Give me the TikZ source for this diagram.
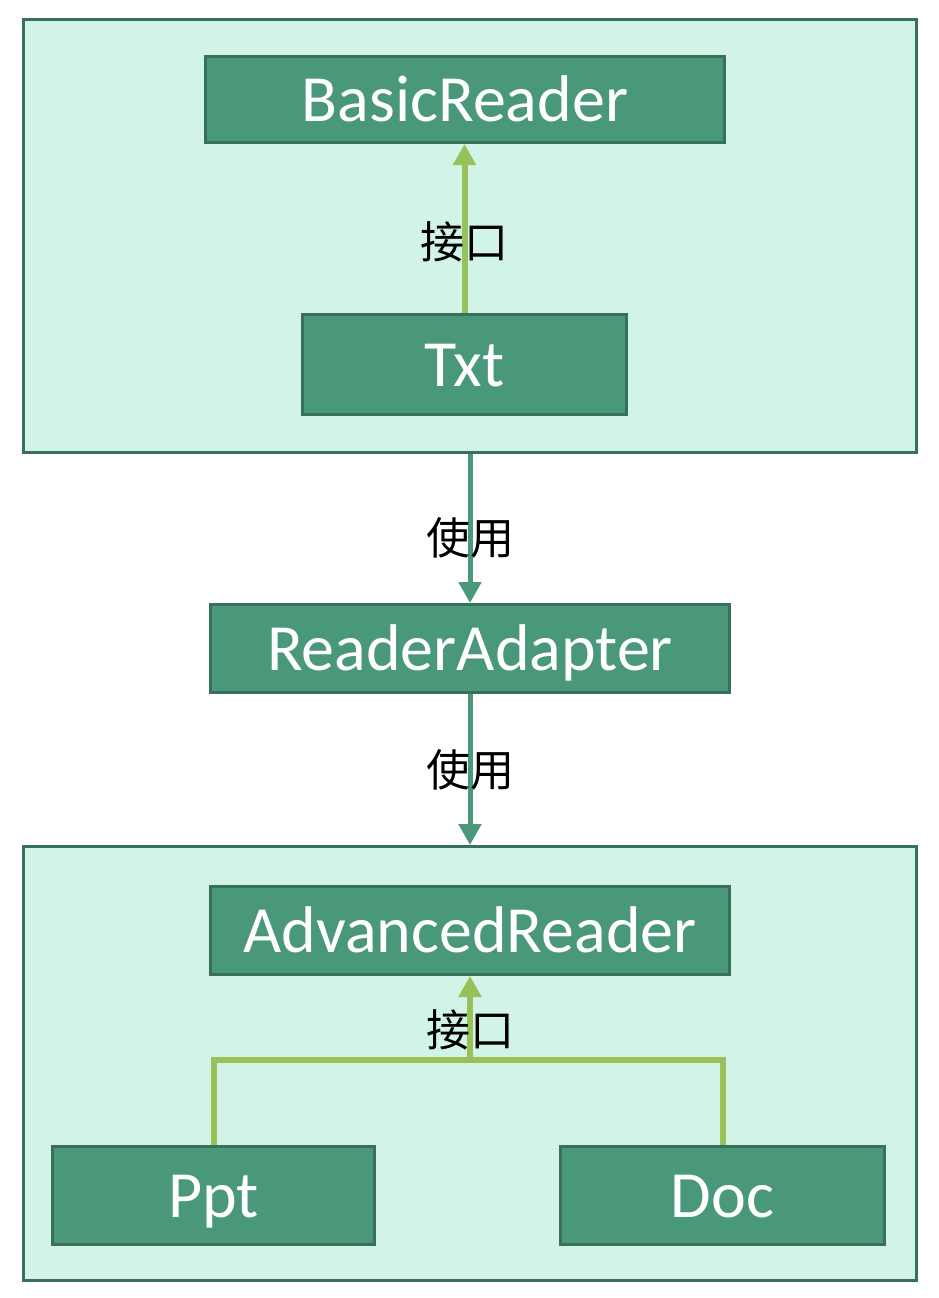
\documentclass[tikz,border=0pt]{standalone}
\usepackage{fontspec}
\setmainfont{Carlito}
\newfontfamily\cjk{Noto Sans CJK SC}
\usetikzlibrary{arrows.meta}
\definecolor{framefill}{HTML}{D2F4E8}
\definecolor{boxfill}{HTML}{4A987A}
\definecolor{boxline}{HTML}{38705A}
\definecolor{ifacegreen}{HTML}{98C15A}
\begin{document}
\begin{tikzpicture}[x=1pt,y=-1pt,
  framebox/.style={draw=boxline,fill=framefill,line width=3pt,minimum width=893pt,minimum height=433pt,inner sep=0pt},
  readerbox/.style={draw=boxline,fill=boxfill,line width=3pt,inner sep=0pt,text height=44pt,text depth=0pt,text=white,font=\fontsize{66}{70}\selectfont},
  iface/.style={draw=ifacegreen,line width=6pt},
  uses/.style={draw=boxfill,line width=5pt,-{Triangle[width=22pt,length=21pt]}},
  lbl/.style={font=\cjk\fontsize{44}{48}\selectfont,inner sep=0pt}]
  \useasboundingbox (0,0) rectangle (938,1298);
  %top
  \node[framebox] (top) at (470,236) {};
  \node[readerbox,minimum width=519pt,minimum height=86pt] (basic) at (465,99.5) {BasicReader};
  \node[readerbox,minimum width=324pt,minimum height=100pt] (txt) at (464.5,364.5) {Txt};
  \draw[iface,-{Triangle[width=22pt,length=21pt]}] (txt.north) -- node[lbl,pos=0.42]{接口} (txt.north |- basic.south);
  %middle
  \node[readerbox,minimum width=519pt,minimum height=88pt] (adapter) at (470,648.5) {ReaderAdapter};
  \draw[uses] (adapter.north |- top.south) -- node[lbl,pos=0.56]{使用} (adapter.north);
  %bottom
  \node[framebox,minimum height=434pt] (bottom) at (470,1063.5) {};
  \draw[uses] (adapter.south) -- node[lbl]{使用} (adapter.south |- bottom.north);
  \node[readerbox,minimum width=519pt,minimum height=88pt] (advanced) at (470,930.5) {AdvancedReader};
  \node[readerbox,minimum width=322pt,minimum height=98pt] (ppt) at (213.5,1195.5) {Ppt};
  \node[readerbox,minimum width=324pt,minimum height=98pt] (doc) at (722.5,1195.5) {Doc};
  \coordinate (join) at (470,1060);
  \draw[iface] (ppt.north) |- (join) -| (doc.north);
  \draw[iface,-{Triangle[width=22pt,length=21pt]}] (join) -- node[lbl,pos=0.36]{接口} (advanced.south);
\end{tikzpicture}
\end{document}
